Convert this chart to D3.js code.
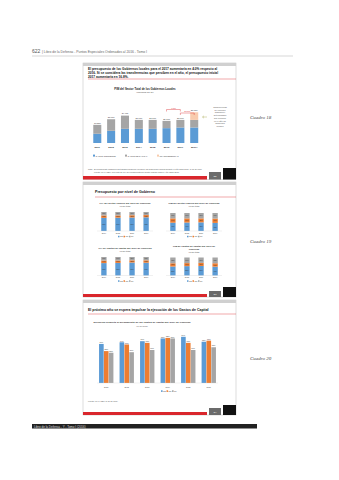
<!DOCTYPE html>
<html><head><meta charset="utf-8">
<script src="https://cdn.jsdelivr.net/npm/d3@7"></script>
<style>html,body{margin:0;padding:0;background:#fff;}svg{display:block;font-family:"Liberation Sans",Arial,sans-serif;}</style>
</head><body>
<script>
// ---------- Data ----------
const c18Years = ["2011","2012","2013","2014","2015","2016","2017","2017*"];
const c18Corriente = [8430, 11140, 12940, 12940, 12940, 13545, 14150, 14150];
const c18Capital = [8120, 10530, 12040, 8130, 8130, 6625, 6920, 6920];
const c18Transfer = [0, 0, 0, 0, 0, 0, 0, 6930];
const c18Series = ["Gasto corriente", "Gasto de capital", "Transferencias"];

const c19Years = ["2014","2015","2016","2017"];
const c19Levels = ["GN","GR","GL"];
const c19PiaGN = [69, 70, 71, 72], c19PiaGR = [13, 12, 12, 12], c19PiaGL = [18, 18, 17, 16];
const c19PimGN = [46, 47, 48, 45], c19PimGR = [24, 23, 22, 24], c19PimGL = [30, 30, 30, 31];
const c19CapPiaGN = [67, 68, 70, 69], c19CapPiaGR = [14, 13, 12, 13], c19CapPiaGL = [19, 19, 18, 18];
const c19CapPimGN = [50, 52, 53, 49], c19CapPimGR = [18, 17, 17, 19], c19CapPimGL = [32, 31, 30, 32];
const c19Titles = [
  ["PIA del Sector Público por nivel de Gobierno","(% del total)"],
  ["PIM del Sector Público por nivel de Gobierno","(% del total)"],
  ["PIA de Gastos de capital por nivel de Gobierno","(% del total)"],
  ["PIM de Gastos de capital por nivel de","Gobierno","(% del total)"]
];

const c20Years = ["2011","2012","2013","2014","2015","2016"];
const c20GN = [71, 74, 76, 81, 84, 75];
const c20GR = [58, 70, 73, 82, 73, 77];
const c20GL = [55, 56, 60, 81, 60, 65];

const colBlue = "#5B9BD5", colOrange = "#ED7D31", colGray = "#A5A5A5", colPeach = "#F8CBAD", colRed = "#D9262C";

// ---------- Canvas ----------
const W = 339, H = 480;
const svg = d3.select("body").append("svg").attr("width", W).attr("height", H);
svg.append("rect").attr("width", W).attr("height", H).attr("fill", "#fff");

function txt(g, x, y, s, opt = {}) {
  return g.append("text").attr("x", x).attr("y", y).text(s)
    .attr("font-size", opt.size || 3).attr("fill", opt.fill || "#222")
    .attr("font-weight", opt.weight || "normal")
    .attr("text-anchor", opt.anchor || "start")
    .attr("font-style", opt.style || "normal")
    .attr("font-family", opt.family || null);
}

// Header
txt(svg, 32, 53, "622", {size: 5, fill: "#555"});
txt(svg, 42, 53, "|  Libro de la Defensa - Puntos Especiales Ordenados al 2016 - Tomo I", {size: 3.4, fill: "#666"});
svg.append("line").attr("x1", 32).attr("x2", 293).attr("y1", 56).attr("y2", 56).attr("stroke", "#999").attr("stroke-width", 0.4);

// Footer
svg.append("rect").attr("x", 32).attr("y", 424).attr("width", 225).attr("height", 4.5).attr("fill", "#222");
txt(svg, 34, 427.5, "Libro de la Defensa  -  Y  -  Tomo I (2016)", {size: 3, fill: "#ddd"});

// Cuadro labels
[["Cuadro 18", 119], ["Cuadro 19", 243], ["Cuadro 20", 360]].forEach(([s, y]) =>
  txt(svg, 250, y, s, {size: 5, style: "italic", family: "Liberation Serif, serif", fill: "#444"}));

// Slide frame helper
function slide(top, bottom, hasBand, redY, grayTop, blackTop, pageNo) {
  const g = svg.append("g");
  g.append("rect").attr("x", 83).attr("y", top).attr("width", 153).attr("height", bottom - top)
    .attr("fill", "#fff").attr("stroke", "#bbb").attr("stroke-width", 0.5);
  if (hasBand) g.append("rect").attr("x", 83).attr("y", top).attr("width", 153).attr("height", 3).attr("fill", "#d0d0d0");
  g.append("rect").attr("x", 83).attr("y", redY).attr("width", 124).attr("height", bottom - redY).attr("fill", colRed);
  g.append("rect").attr("x", 209).attr("y", grayTop).attr("width", 12).attr("height", bottom - grayTop).attr("fill", "#6b6b6b");
  txt(g, 215, (grayTop + bottom) / 2 + 1, pageNo, {size: 2.5, fill: "#fff", anchor: "middle"});
  g.append("rect").attr("x", 223).attr("y", blackTop).attr("width", 13).attr("height", bottom - blackTop).attr("fill", "#111");
  return g;
}

// ================= Slide 1 (Cuadro 18) =================
const s1 = slide(63, 179.5, true, 176, 172, 168, "22");
["El presupuesto de los Gobiernos locales para el 2017 aumentaría en 4.0% respecto al",
 "2016. Si se considera las transferencias que perciben en el año, el presupuesto inicial",
 "2017 aumentaría en 16.8%."].forEach((l, i) => txt(s1, 88, 70 + i * 3.8, l, {size: 3.2, weight: "bold", fill: "#111"}));
s1.append("line").attr("x1", 88).attr("x2", 236).attr("y1", 79).attr("y2", 79).attr("stroke", colRed).attr("stroke-width", 0.4);
txt(s1, 145, 89.5, "PIM del Sector Total de los Gobiernos Locales", {size: 2.8, weight: "bold", anchor: "middle"});
txt(s1, 145, 93, "(Millones de S/)", {size: 2.5, anchor: "middle", fill: "#444"});

const x18 = d3.scaleBand().domain(c18Years).range([90.5, 201]).paddingInner(0.42).paddingOuter(0.2);
const y18 = d3.scaleLinear().domain([0, 28000]).range([143, 112.3]);
const st18 = d3.stack().keys([0, 1, 2]).value((d, k) => d[k])(
  c18Years.map((y, i) => [c18Corriente[i], c18Capital[i], c18Transfer[i]]));
const col18 = [colBlue, colGray, colPeach];
st18.forEach((layer, k) => {
  s1.append("g").selectAll("rect").data(layer).join("rect")
    .attr("x", (d, i) => x18(c18Years[i])).attr("width", x18.bandwidth())
    .attr("y", d => y18(d[1])).attr("height", d => y18(d[0]) - y18(d[1]))
    .attr("fill", col18[k]);
});
const fmt = d3.format(",");
c18Years.forEach((yr, i) => {
  const tot = c18Corriente[i] + c18Capital[i] + c18Transfer[i];
  txt(s1, x18(yr) + x18.bandwidth() / 2, y18(tot) - 1.2, fmt(tot), {size: 2.2, anchor: "middle", fill: "#333"});
  txt(s1, x18(yr) + x18.bandwidth() / 2, 148, yr, {size: 2.5, anchor: "middle", weight: "bold", fill: "#333"});
});
// brackets
function bracket(a, b, yy, label) {
  const xa = x18(a) + x18.bandwidth() / 2, xb = x18(b) + x18.bandwidth() / 2;
  s1.append("path").attr("d", `M${xa},${yy + 2}V${yy}H${xb}V${yy + 2}`).attr("fill", "none").attr("stroke", colRed).attr("stroke-width", 0.4);
  txt(s1, (xa + xb) / 2, yy - 1, label, {size: 2.2, anchor: "middle", fill: colRed});
}
bracket("2016", "2017", 109.5, "4.0%");
bracket("2017", "2017*", 113, "16.8%");
// arrow & side note
s1.append("path").attr("d", "M207,117H202.5M204,115.8L202.5,117L204,118.2").attr("fill", "none").attr("stroke", "#b5b56a").attr("stroke-width", 0.5);
["Transferencias","de recursos","ordinarios y","determinados","que perciben","en el año los","Gobiernos","Locales"].forEach((l, i) =>
  txt(s1, 220, 108 + i * 2.7, l, {size: 2.1, anchor: "middle", fill: "#555"}));
// legend
let lx = 93;
c18Series.forEach((s, k) => {
  s1.append("rect").attr("x", lx).attr("y", 154.6).attr("width", 2).attr("height", 2).attr("fill", col18[k]);
  txt(s1, lx + 2.6, 156.5, s.toUpperCase(), {size: 2.1, fill: "#444"});
  lx += 32;
});
txt(s1, 88, 170, "Nota:", {size: 2, fill: "#555"});
txt(s1, 94, 170, "El presupuesto considera las transferencias que perciben los Gobiernos Locales durante el año fiscal 2016, al 30 de junio.", {size: 2, fill: "#555"});
txt(s1, 94, 173, "Fuente: SIAF-MEF; Proyecto de Ley de Presupuesto del Sector Público para el Año Fiscal 2017.", {size: 2, fill: "#555"});

// ================= Slide 2 (Cuadro 19) =================
const s2 = slide(182, 297, true, 294, 291, 287, "23");
txt(s2, 95, 193, "Presupuesto por nivel de Gobierno", {size: 3.6, weight: "bold", fill: "#111"});
s2.append("line").attr("x1", 95).attr("x2", 236).attr("y1", 197).attr("y2", 197).attr("stroke", colRed).attr("stroke-width", 0.4);

const c19Sets = [
  [c19PiaGN, c19PiaGR, c19PiaGL], [c19PimGN, c19PimGR, c19PimGL],
  [c19CapPiaGN, c19CapPiaGR, c19CapPiaGL], [c19CapPimGN, c19CapPimGR, c19CapPimGL]
];
const c19Pos = [
  {cx: 125, x0: 97, x1: 153, tY: 204, top: 212, base: 231},
  {cx: 194, x0: 166, x1: 222, tY: 204, top: 213, base: 231},
  {cx: 125, x0: 97, x1: 153, tY: 249, top: 257, base: 275.5},
  {cx: 194, x0: 166, x1: 222, tY: 246.5, top: 257.5, base: 275.5}
];
const col19 = [colBlue, colOrange, colGray];
c19Sets.forEach((set, ci) => {
  const p = c19Pos[ci];
  c19Titles[ci].forEach((l, i) => txt(s2, p.cx, p.tY + i * 3, l, {size: i === 0 || (ci === 3 && i === 1) ? 2.4 : 2.1, weight: i === 0 || (ci === 3 && i === 1) ? "bold" : "normal", anchor: "middle", fill: "#333"}));
  const xs = d3.scaleBand().domain(c19Years).range([p.x0, p.x1]).paddingInner(0.62).paddingOuter(0.3);
  const ys = d3.scaleLinear().domain([0, 100]).range([p.base, p.top]);
  const st = d3.stack().keys([0, 1, 2]).value((d, k) => d[k])(c19Years.map((y, i) => set.map(s => s[i])));
  st.forEach((layer, k) => {
    const gg = s2.append("g");
    gg.selectAll("rect").data(layer).join("rect")
      .attr("x", (d, i) => xs(c19Years[i])).attr("width", xs.bandwidth())
      .attr("y", d => ys(d[1])).attr("height", d => ys(d[0]) - ys(d[1])).attr("fill", col19[k]);
    gg.selectAll("text").data(layer).join("text")
      .attr("x", (d, i) => xs(c19Years[i]) + xs.bandwidth() / 2).attr("y", d => (ys(d[0]) + ys(d[1])) / 2 + 0.6)
      .attr("text-anchor", "middle").attr("font-size", 1.6).attr("fill", "#333").text(d => (d[1] - d[0]) + "%");
  });
  s2.append("line").attr("x1", p.x0).attr("x2", p.x1).attr("y1", p.base).attr("y2", p.base).attr("stroke", "#ccc").attr("stroke-width", 0.3);
  c19Years.forEach(yr => txt(s2, xs(yr) + xs.bandwidth() / 2, p.base + 2.8, yr, {size: 1.9, anchor: "middle", fill: "#444"}));
  let gx = p.cx - 7;
  c19Levels.forEach((lv, k) => {
    s2.append("rect").attr("x", gx).attr("y", p.base + 4.8).attr("width", 1.5).attr("height", 1.5).attr("fill", col19[k]);
    txt(s2, gx + 2, p.base + 6.3, lv, {size: 1.8, fill: "#444"});
    gx += 5.5;
  });
});

// ================= Slide 3 (Cuadro 20) =================
const s3 = slide(300, 415, true, 412, 408, 405, "24");
txt(s3, 88, 310.5, "El próximo año se espera impulsar la ejecución de los Gastos de Capital", {size: 3.5, weight: "bold", fill: "#111"});
s3.append("line").attr("x1", 88).attr("x2", 236).attr("y1", 314).attr("y2", 314).attr("stroke", colRed).attr("stroke-width", 0.4);
txt(s3, 142, 323, "Ejecución respecto al presupuesto de los Gastos de capital por nivel de Gobierno", {size: 2.5, weight: "bold", anchor: "middle", fill: "#333"});
txt(s3, 142, 326.5, "(% del PIM)", {size: 2.2, anchor: "middle", fill: "#444"});

const x20 = d3.scaleBand().domain(c20Years).range([97, 218]).paddingInner(0.3).paddingOuter(0.1);
const xin = d3.scaleBand().domain([0, 1, 2]).range([0, x20.bandwidth()]).paddingInner(0.05);
const y20 = d3.scaleLinear().domain([0, 100]).range([383, 328]);
const series20 = [c20GN, c20GR, c20GL];
series20.forEach((arr, k) => {
  const gg = s3.append("g");
  gg.selectAll("rect").data(arr).join("rect")
    .attr("x", (d, i) => x20(c20Years[i]) + xin(k)).attr("width", xin.bandwidth())
    .attr("y", d => y20(d)).attr("height", d => y20(0) - y20(d)).attr("fill", col19[k]);
  gg.selectAll("text").data(arr).join("text")
    .attr("x", (d, i) => x20(c20Years[i]) + xin(k) + xin.bandwidth() / 2).attr("y", d => y20(d) - 0.8)
    .attr("text-anchor", "middle").attr("font-size", 1.8).attr("fill", "#333").text(d => d + "%");
});
s3.append("line").attr("x1", 97).attr("x2", 218).attr("y1", 383).attr("y2", 383).attr("stroke", "#ccc").attr("stroke-width", 0.3);
c20Years.forEach(yr => txt(s3, x20(yr) + x20.bandwidth() / 2, 387.5, yr, {size: 2, anchor: "middle", fill: "#444"}));
let gx3 = 161;
c19Levels.forEach((lv, k) => {
  s3.append("rect").attr("x", gx3).attr("y", 390.3).attr("width", 1.6).attr("height", 1.6).attr("fill", col19[k]);
  txt(s3, gx3 + 2.1, 391.9, lv, {size: 1.9, fill: "#444"});
  gx3 += 5.5;
});
txt(s3, 88, 402, "Fuente: SIAF-MEF, al 30 de junio.", {size: 2, fill: "#555"});
</script>
</body></html>
